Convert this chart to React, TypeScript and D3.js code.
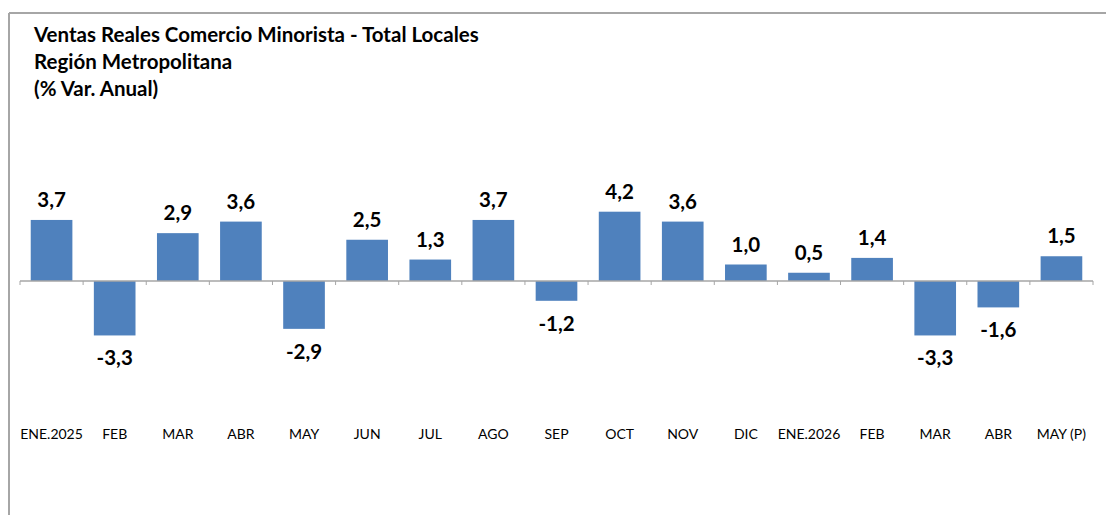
import React from "react";
import { scaleBand, scaleLinear } from "d3";

const categories = ["ENE.2025", "FEB", "MAR", "ABR", "MAY", "JUN", "JUL", "AGO", "SEP", "OCT", "NOV", "DIC", "ENE.2026", "FEB", "MAR", "ABR", "MAY (P)"];
const values = [3.7, -3.3, 2.9, 3.6, -2.9, 2.5, 1.3, 3.7, -1.2, 4.2, 3.6, 1.0, 0.5, 1.4, -3.3, -1.6, 1.5];
const titleLines = ["Ventas Reales Comercio Minorista - Total Locales", "Región Metropolitana", "(% Var. Anual)"];

const W = 1106;
const H = 515;
const font = "Lato, 'Open Sans', sans-serif";

const fmt = (v: number) => v.toFixed(1).replace(".", ",");

export default function App() {
  const keys = categories.map((c, i) => `${i}`);
  const x = scaleBand<string>().domain(keys).range([20, 1093]).paddingInner(0.34).paddingOuter(0.17);
  const y = scaleLinear().domain([0, 1]).range([281, 264.5]);
  const step = x.step();
  const x0 = 20;

  return (
    <svg width={W} height={H} style={{ position: "absolute", left: 0, top: 0 }}>
      <rect width={W} height={H} fill="#fff" />
      {/* frame */}
      <line x1={9} y1={13} x2={W} y2={13} stroke="#a6a6a6" strokeWidth={2} />
      <line x1={9} y1={13} x2={9} y2={H} stroke="#a6a6a6" strokeWidth={2} />
      {titleLines.map((t, i) => (
        <text key={i} x={34} y={42 + i * 27} fontFamily={font} fontWeight={700} fontSize={20.5} fill="#000">
          {t}
        </text>
      ))}
      {values.map((v, i) => {
        const bx = x(keys[i])!;
        const top = Math.min(y(v), y(0));
        const h = Math.abs(y(v) - y(0));
        return <rect key={i} x={bx} y={top} width={x.bandwidth()} height={h} fill="#4f81bd" />;
      })}
      {/* zero axis */}
      <line x1={x0} x2={1093} y1={y(0)} y2={y(0)} stroke="#a6a6a6" strokeWidth={1.5} />
      {categories.map((c, i) => (
        <line key={i} x1={x0 + step * i} x2={x0 + step * i} y1={y(0)} y2={y(0) + 4} stroke="#a6a6a6" />
      ))}
      <line x1={1093} x2={1093} y1={y(0)} y2={y(0) + 4} stroke="#a6a6a6" />
      {values.map((v, i) => (
        <text
          key={i}
          x={x(keys[i])! + x.bandwidth() / 2}
          y={v >= 0 ? y(v) - 13 : y(v) + 30}
          textAnchor="middle"
          fontFamily={font}
          fontWeight={700}
          fontSize={20.5}
          fill="#000"
        >
          {fmt(v)}
        </text>
      ))}
      {categories.map((c, i) => (
        <text
          key={i}
          x={x(keys[i])! + x.bandwidth() / 2}
          y={439}
          textAnchor="middle"
          fontFamily={font}
          fontSize={14}
          fill="#000"
        >
          {c}
        </text>
      ))}
    </svg>
  );
}
